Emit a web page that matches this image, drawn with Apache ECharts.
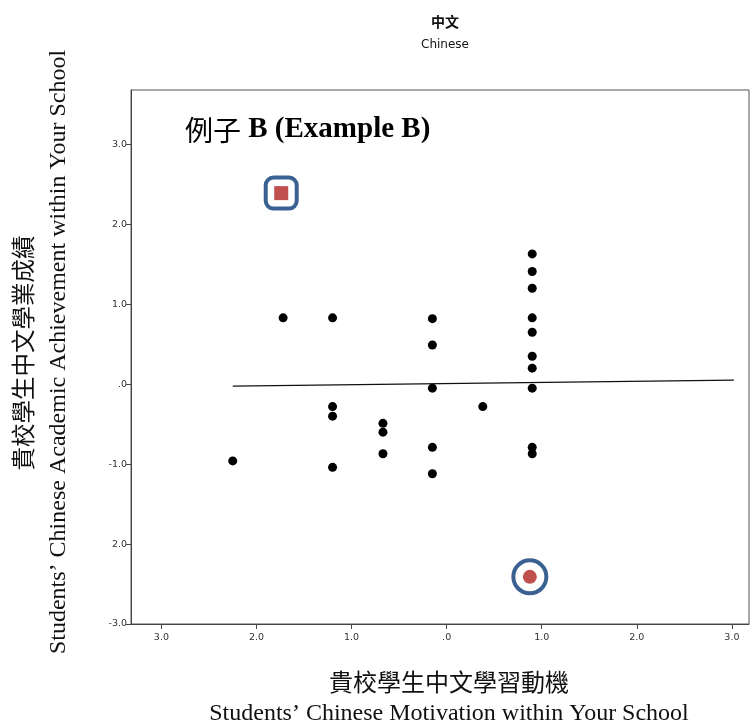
<!DOCTYPE html>
<html>
<head>
<meta charset="utf-8">
<script src="https://cdn.jsdelivr.net/npm/echarts@6/dist/echarts.min.js"></script>
<style>
html,body{margin:0;padding:0;background:#fff;}
#chart{width:754px;height:725px;}
</style>
</head>
<body>
<div id="chart"></div>
<script>
// Standardized motivation (x) and achievement (y) per school
const motivation = [-1.72, -1.20, -0.15, 0.90, 0.90, 0.90, 0.90, 0.90, -0.15, 0.90, 0.90, -0.15, 0.90, -1.20, 0.38, -1.20, -0.67, -0.67, -0.15, 0.90, 0.90, -0.67, -2.25, -1.20, -0.15];
const achievement = [0.83, 0.83, 0.82, 1.63, 1.41, 1.20, 0.83, 0.65, 0.49, 0.35, 0.20, -0.05, -0.05, -0.28, -0.28, -0.40, -0.49, -0.60, -0.79, -0.79, -0.87, -0.87, -0.96, -1.04, -1.12];
// Highlighted outliers
const outlierSquare = [-1.74, 2.39];
const outlierCircle = [0.875, -2.41];
// Fit line endpoints
const fitX = [-2.25, 3.02];
const fitY = [-0.025, 0.05];
// Tick values and labels (as printed in the original)
const xTicks = [-3, -2, -1, 0, 1, 2, 3];
const xTickLabels = ['3.0', '2.0', '1.0', '.0', '1.0', '2.0', '3.0'];
const yTicks = [-3, -2, -1, 0, 1, 2, 3];
const yTickLabels = ['-3.0', '2.0', '-1.0', '.0', '1.0', '2.0', '3.0'];

const blue = '#3b6192';
const red = '#c0504d';
const serif = '"Liberation Serif", "Noto Sans CJK TC", serif';

const chart = echarts.init(document.getElementById('chart'));
const pts = motivation.map((x, i) => [x, achievement[i]]);
function lbl(ticks, labels) {
  return v => {
    const i = ticks.findIndex(t => Math.abs(t - v) < 1e-6);
    return i >= 0 ? labels[i] : '';
  };
}
chart.setOption({
  animation: false,
  grid: {left: 131, top: 90, right: 5, bottom: 101, show: true, borderColor: '#555', borderWidth: 1, backgroundColor: 'transparent'},
  xAxis: {
    type: 'value', min: -3.32, max: 3.18,
    axisLine: {show: true, onZero: false, lineStyle: {color: '#444', width: 1}},
    axisTick: {show: true, customValues: xTicks, length: 5, lineStyle: {color: '#444'}},
    axisLabel: {customValues: xTicks, formatter: lbl(xTicks, xTickLabels), color: '#333', fontSize: 9.5, fontFamily: '"DejaVu Sans", sans-serif', margin: 9},
    splitLine: {show: false}
  },
  yAxis: {
    type: 'value', min: -3, max: 3.68,
    axisLine: {show: true, onZero: false, lineStyle: {color: '#444', width: 1}},
    axisTick: {show: true, customValues: yTicks, length: 5, lineStyle: {color: '#444'}},
    axisLabel: {customValues: yTicks, formatter: lbl(yTicks, yTickLabels), color: '#333', fontSize: 9.5, fontFamily: '"DejaVu Sans", sans-serif', margin: 4},
    splitLine: {show: false}
  },
  series: [
    {type: 'line', data: fitX.map((x, i) => [x, fitY[i]]), symbol: 'none', lineStyle: {color: '#111', width: 1.3}, z: 2},
    {type: 'scatter', data: pts, symbol: 'circle', symbolSize: 9, itemStyle: {color: '#000', opacity: 1}, z: 3},
    {type: 'scatter', data: [outlierSquare], symbol: 'roundRect', symbolSize: 31, itemStyle: {color: '#fff', borderColor: blue, borderWidth: 4, opacity: 1}, z: 4},
    {type: 'scatter', data: [outlierSquare], symbol: 'rect', symbolSize: 14, itemStyle: {color: red, opacity: 1}, z: 5},
    {type: 'scatter', data: [outlierCircle], symbol: 'circle', symbolSize: 33, itemStyle: {color: '#fff', borderColor: blue, borderWidth: 4, opacity: 1}, z: 4},
    {type: 'scatter', data: [outlierCircle], symbol: 'circle', symbolSize: 14, itemStyle: {color: red, opacity: 1}, z: 5}
  ],
  graphic: [
    {type: 'text', x: 445, y: 22, style: {text: '中文', font: 'bold 14px "Noto Sans CJK TC", sans-serif', fill: '#111', textAlign: 'center', textVerticalAlign: 'middle'}},
    {type: 'text', x: 445, y: 45, style: {text: 'Chinese', font: '12px "DejaVu Sans", sans-serif', fill: '#111', textAlign: 'center', textVerticalAlign: 'middle'}},
    {type: 'text', x: 185, y: 130, style: {
      text: '{c|例子} B (Example B)', font: 'bold 29px ' + serif, fill: '#000', textAlign: 'left', textVerticalAlign: 'middle',
      rich: {c: {fontFamily: '"Noto Sans CJK TC", sans-serif', fontWeight: 'normal', fontSize: 28, fill: '#000'}}
    }},
    {type: 'text', x: 449, y: 685, style: {text: '貴校學生中文學習動機', font: '24px ' + serif, fill: '#111', textAlign: 'center', textVerticalAlign: 'middle'}},
    {type: 'text', x: 449, y: 714, style: {text: 'Students’ Chinese Motivation within Your School', font: '24px ' + serif, fill: '#111', textAlign: 'center', textVerticalAlign: 'middle'}},
    {type: 'text', x: 26, y: 353, rotation: Math.PI / 2, style: {text: '貴校學生中文學業成績', font: '23.5px ' + serif, fill: '#111', textAlign: 'center', textVerticalAlign: 'middle'}},
    {type: 'text', x: 59, y: 352, rotation: Math.PI / 2, style: {text: 'Students’ Chinese Academic Achievement within Your School', font: '24px ' + serif, fill: '#111', textAlign: 'center', textVerticalAlign: 'middle'}}
  ]
});
</script>
</body>
</html>
